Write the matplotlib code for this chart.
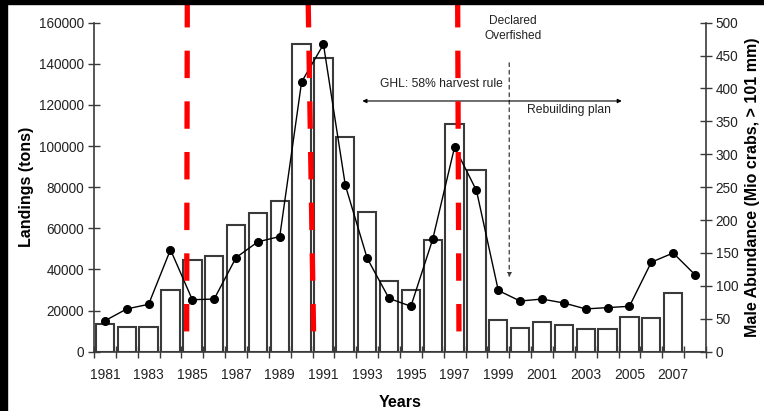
import matplotlib.pyplot as plt
from matplotlib.patches import Rectangle

plt.rcParams['font.family'] = ['Liberation Sans', 'DejaVu Sans']

years = list(range(1981, 2009))
landings = [13500, 11900, 12100, 30000, 44700, 46300, 61600, 67600, 73400, 149500,
            143000, 104600, 68100, 34400, 30000, 54300, 110600, 88200, 15300, 11400,
            14600, 13000, 10900, 11200, 17000, 16500, 28400, 0]
male_abundance = [47, 65, 72, 155, 79, 80, 143, 167, 175, 410,
                  467, 253, 142, 81, 69, 171, 311, 245, 93, 77,
                  80, 74, 65, 67, 69, 136, 150, 117]
year_labels = [str(y) for y in years[::2]]

# red dashed markers (year at top, year at bottom)
events = [(1984.77, 1984.74), (1990.30, 1990.55), (1997.14, 1997.20)]

edge = '#3a3a3a'
txt = '#222222'

fig = plt.figure(figsize=(7.64, 4.11), dpi=100)
ax = fig.add_axes([0.123, 0.1443, 0.801, 0.8005])
ax2 = ax.twinx()

idx = list(range(len(years)))
ax.bar(idx, landings, width=0.84, color='white', edgecolor=edge, linewidth=1.5, zorder=2)
ax2.plot(idx, male_abundance, color='black', lw=1.0, marker='o', ms=5.5, zorder=3)

ax.set_xlim(-0.5, len(years) - 0.5)
ax.set_ylim(0, 160000)
ax2.set_ylim(0, 500)
ax.set_yticks(range(0, 160001, 20000))
ax2.set_yticks(range(0, 501, 50))

# boundary ticks, labels under every other year
ax.set_xticks([i - 0.5 for i in range(len(years) + 1)])
ax.set_xticklabels([])
ax.set_xticks(idx[::2], minor=True)
ax.set_xticklabels(year_labels, minor=True)
ax.tick_params(axis='x', which='major', direction='inout', length=8, width=1, color=edge)
ax.tick_params(axis='x', which='minor', length=0, pad=12, labelsize=10, labelcolor=txt)
ax.tick_params(axis='y', direction='inout', length=8, width=1, color=edge, labelsize=9.8,
               labelcolor=txt, pad=3)
ax2.tick_params(axis='y', direction='inout', length=8, width=1, color=edge, labelsize=9.8,
                labelcolor=txt, pad=3)

for s in ['top', 'right']:
    ax.spines[s].set_visible(False)
for s in ['top', 'left', 'bottom']:
    ax2.spines[s].set_visible(False)
for s in ['left', 'bottom']:
    ax.spines[s].set_color(edge)
    ax.spines[s].set_linewidth(1.2)
ax2.spines['right'].set_color(edge)
ax2.spines['right'].set_linewidth(1.2)

ax.set_ylabel('Landings (tons)', fontsize=11.5, fontweight='bold', labelpad=4)
ax2.set_ylabel('Male Abundance (Mio crabs, > 101 mm)', fontsize=11.5, fontweight='bold',
               labelpad=5)
ax.set_xlabel('Years', fontsize=11.5, fontweight='bold', labelpad=9)

# management annotations
ax2.text(18.67, 491, 'Declared\nOverfished', ha='center', va='center', fontsize=8.6,
         color=txt, linespacing=1.3)
ax2.annotate('', xy=(18.5, 113), xytext=(18.5, 439),
             arrowprops=dict(arrowstyle='-|>', color=edge, lw=0.9, ls=(0, (3, 3)),
                             mutation_scale=6, shrinkA=0, shrinkB=0))
ax2.annotate('', xy=(11.78, 381), xytext=(23.65, 381),
             arrowprops=dict(arrowstyle='<|-|>', color='black', lw=0.8,
                             mutation_scale=6, shrinkA=0, shrinkB=0))
ax2.text(15.42, 407, 'GHL: 58% harvest rule', ha='center', va='center', fontsize=8.7, color=txt)
ax2.text(21.23, 367, 'Rebuilding plan', ha='center', va='center', fontsize=8.7, color=txt)

for top, bottom in events:
    ax2.plot([top - 1981, bottom - 1981], [534.5, 25], color='#ff0000', lw=3.8,
             ls=(0, (5.2, 4.4)), clip_on=False, zorder=10, solid_capstyle='butt')

# dark frame strips at left and top edges
fig.patches.append(Rectangle((0, 0), 7 / 764, 1, transform=fig.transFigure,
                             color='black', zorder=20))
fig.patches.append(Rectangle((0, 1 - 4 / 411), 1, 4 / 411, transform=fig.transFigure,
                             color='black', zorder=20))

fig.savefig('out.png', dpi=100)
